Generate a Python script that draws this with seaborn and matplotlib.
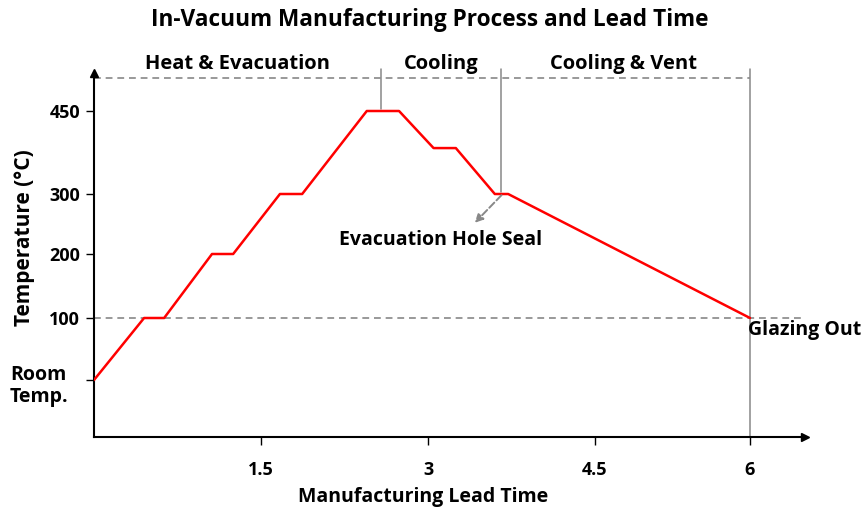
import numpy as np
import pandas as pd
import matplotlib
matplotlib.use("Agg")
import matplotlib.pyplot as plt
import seaborn as sns

# ---- data ----
time_h = [0, 0.45, 0.63, 1.06, 1.25, 1.67, 1.87, 2.45, 2.74, 3.05, 3.25, 3.60, 3.72, 6.0]
temp_c = [0, 100, 100, 200, 200, 300, 300, 450, 450, 383, 383, 300, 300, 100]
x_ticks = [1.5, 3, 4.5, 6]
x_tick_labels = ["1.5", "3", "4.5", "6"]
y_ticks = [0, 100, 200, 300, 450]
y_tick_labels = ["", "100", "200", "300", "450"]
phase_bounds = [2.58, 3.66, 6.0]
phase_names = ["Heat & Evacuation", "Cooling", "Cooling & Vent"]
phase_label_x = [1.29, 3.12, 4.78]
seal_time, seal_temp = 3.66, 300
out_time, out_temp = 6.0, 100
top_level = 511

sns.set_style("white")
plt.rcParams["font.family"] = ["Open Sans", "DejaVu Sans"]
plt.rcParams["font.weight"] = "bold"
for k in ["text.color", "axes.labelcolor", "xtick.color", "ytick.color"]:
    plt.rcParams[k] = "black"

# piecewise scales matching the drawing's axis spacing
XV = [-10, 0, 1.5, 3, 4.5, 6, 6.5, 20]
XP = [94 - 1113, 94, 261, 428, 595, 750, 805, 805 + 13.5 * 110]
YV = [-1000, -92, 0, 100, 200, 300, 450, 520, 2000]
YP = [57 - 620, 0, 57, 119, 183, 243, 326, 364, 326 + 1550 * 0.553]

def fx(v):
    return np.interp(v, XV, XP)

def ix(p):
    return np.interp(p, XP, XV)

def fy(v):
    return np.interp(v, YV, YP)

def iy(p):
    return np.interp(p, YP, YV)

W, H = 864, 513
fig = plt.figure(figsize=(8.64, 5.13), dpi=100)
ax = fig.add_axes([94 / W, 1 - 437 / H, (805 - 94) / W, (437 - 73) / H])
ax.set_xscale("function", functions=(fx, ix))
ax.set_yscale("function", functions=(fy, iy))
ax.set_xlim(0, 6.5)
ax.set_ylim(-92, 520)

df = pd.DataFrame({"time": time_h, "temp": temp_c})
sns.lineplot(data=df, x="time", y="temp", color="#ff0000", linewidth=1.8, ax=ax, sort=False, zorder=3)

# guide lines
ax.plot([0, 6.0], [top_level, top_level], ls=(0, (3.5, 2.5)), color="#999999", lw=1.4, zorder=1)
ax.plot([0, 6.5], [100, 100], ls=(0, (3.5, 2.5)), color="#999999", lw=1.4, zorder=1, clip_on=False)
ax.plot([phase_bounds[0]] * 2, [453, 528], color="#888888", lw=1.1, clip_on=False, zorder=2)
ax.plot([phase_bounds[1]] * 2, [303, 528], color="#888888", lw=1.1, clip_on=False, zorder=2)
ax.plot([phase_bounds[2]] * 2, [-92, 528], color="#888888", lw=1.1, clip_on=False, zorder=2)

# phase labels
for name, xl in zip(phase_names, phase_label_x):
    ax.text(xl, (437 - 64) / (437 - 73), name, transform=ax.get_xaxis_transform(),
            ha="center", va="center", fontsize=14.5, fontweight="bold", clip_on=False)

# seal annotation
ax.annotate("", xy=(3.42, 252), xytext=(seal_time, seal_temp - 2),
            arrowprops=dict(arrowstyle="-|>", color="#888888", lw=1.4, ls="--",
                            mutation_scale=12, shrinkA=0, shrinkB=0))
ax.text(3.11, 223, "Evacuation Hole Seal", ha="center", va="center",
        fontsize=14, fontweight="bold")
ax.text(out_time - 0.02, 80, "Glazing Out", ha="left", va="center",
        fontsize=14, fontweight="bold", clip_on=False)

# axes styling
for s in ["top", "right"]:
    ax.spines[s].set_visible(False)
for s in ["left", "bottom"]:
    ax.spines[s].set_color("black")
    ax.spines[s].set_linewidth(1.5)
ax.plot(1, 0, ">k", transform=ax.transAxes, clip_on=False, markersize=6)
ax.plot(0, 1, "^k", transform=ax.transAxes, clip_on=False, markersize=6)

ax.set_xticks(x_ticks)
ax.set_xticklabels(x_tick_labels)
ax.set_yticks(y_ticks)
ax.set_yticklabels(y_tick_labels)
ax.minorticks_off()
ax.tick_params(axis="x", length=6, width=1, pad=11, labelsize=13, direction="out", bottom=True)
ax.tick_params(axis="y", length=6, width=1, pad=4, labelsize=13, direction="out", left=True)
for lab in ax.get_xticklabels() + ax.get_yticklabels():
    lab.set_fontweight("bold")
ax.set_xlabel("")
ax.set_ylabel("")

fig.text(10 / W, 1 - 386 / H, "Room\nTemp.", ha="left", va="center", fontsize=14,
         fontweight="bold", linespacing=1.1)
fig.text(25 / W, 1 - 238 / H, "Temperature (°C)", rotation=90, ha="center", va="center",
         fontsize=15, fontweight="bold")
fig.text(423 / W, 1 - 497 / H, "Manufacturing Lead Time", ha="center", va="center",
         fontsize=14, fontweight="bold")
fig.text(430 / W, 1 - 20 / H, "In-Vacuum Manufacturing Process and Lead Time",
         ha="center", va="center", fontsize=16.3, fontweight="bold")

fig.savefig("out.png", dpi=100)
